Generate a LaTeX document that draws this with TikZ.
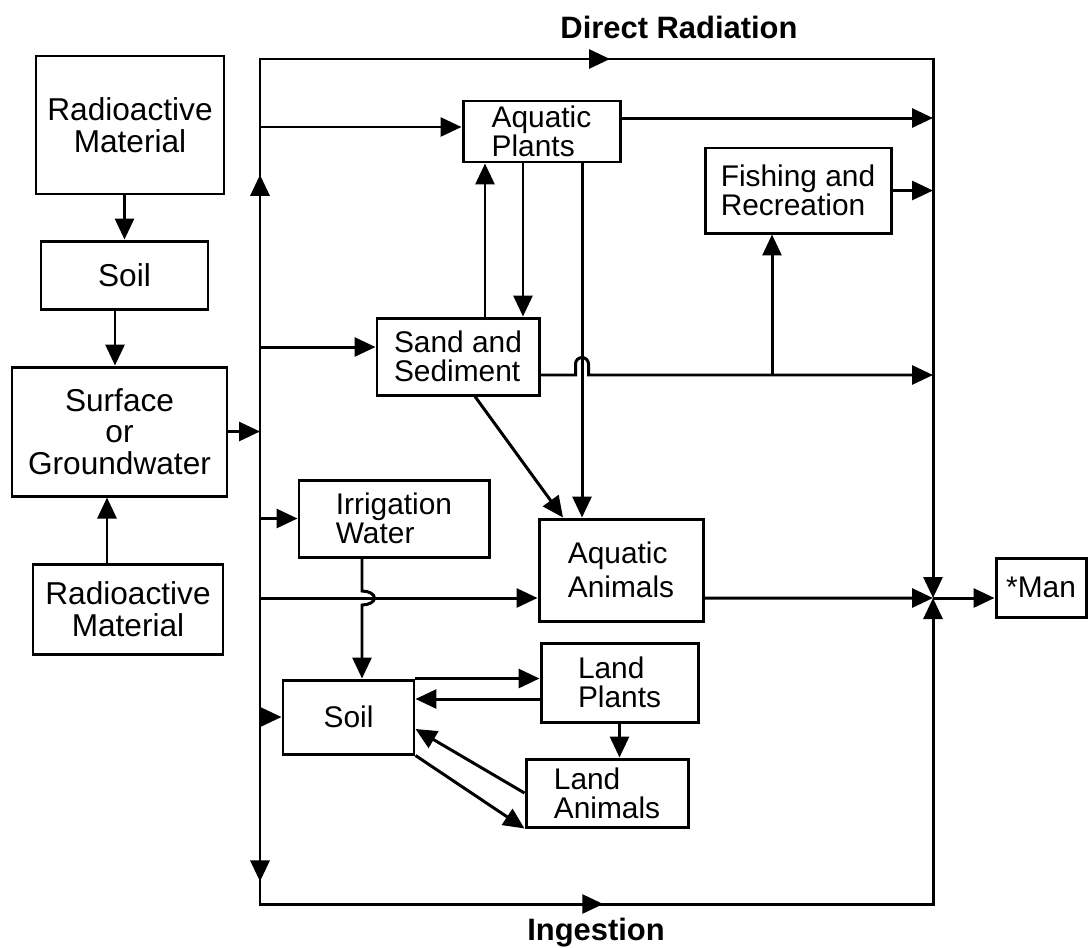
\documentclass[tikz,border=0pt]{standalone}
\usepackage{fontspec}
\setmainfont{Liberation Sans}
\usetikzlibrary{arrows.meta, decorations.markings}

\tikzset{
  wh/.style 2 args={minimum width=#1*0.02cm, minimum height=#2*0.02cm},
  box/.style={draw, line width=1.7pt, inner sep=0pt},
  lbox/.style={box, align=center, font=\fontsize{18}{18}\selectfont},
  rbox/.style={box, align=left, font=\fontsize{17}{16.5}\selectfont},
  flow/.style={line width=1.7pt, -{Triangle[length=0.42cm, width=0.38cm]}},
  midarrow/.style={postaction={decorate, decoration={markings,
      mark=at position #1 with {\arrow{Triangle[length=0.42cm, width=0.38cm]}}}}},
  head/.style={font=\bfseries\fontsize{17.6}{20}\selectfont}
}

\begin{document}
\begin{tikzpicture}[x=0.02cm, y=-0.02cm]
        \useasboundingbox (0,0) rectangle (1088,947);

        %% NODES
        % Source column
        \node[lbox, wh={188}{138}] (rmA) at (130,125) {Radioactive\\Material};
        \node[lbox, wh={167}{68}] (soilA) at (124.5,275) {Soil};
        \node[lbox, wh={215}{129}] (surf) at (119.5,431.5) {Surface\\or\\Groundwater};
        \node[lbox, wh={190}{90}] (rmB) at (128,609) {Radioactive\\Material};

        % Aquatic part
        \node[rbox, wh={157}{61}] (aqPl) at (541.5,131.5) {Aquatic\\Plants};
        \node[rbox, wh={186}{85}] (fish) at (798,190.5) {Fishing and\\Recreation};
        \node[rbox, wh={162}{77}] (sand) at (458,356.5) {Sand and\\Sediment};
        \node[rbox, wh={190}{77}] (irr) at (394,518.5) {Irrigation\\Water};
        \node[rbox, wh={164}{102}] (aqAn) at (621,570) {Aquatic\\[3pt]Animals};
        \node[rbox, wh={90}{59}] (man) at (1041,587.5) {*Man};

        % Land part
        \node[rbox, wh={157}{79}] (landPl) at (619.5,682.5) {Land\\Plants};
        \node[rbox, wh={131}{74}] (soilB) at (348.5,717) {Soil};
        \node[rbox, wh={162}{68}] (landAn) at (607,793) {Land\\Animals};

        % Headings
        \node[head] (dirRad) at (679,27) {Direct Radiation};
        \node[head] (ingest) at (596,933) {Ingestion};

        %% BUS LINES
        \coordinate (tl) at (260,59);
        \coordinate (tr) at (933,59);
        \coordinate (bl) at (260,904);
        \coordinate (br) at (933,904);
        \coordinate (jn) at (933,598);
        \coordinate (sj) at (surf.east -| tl);

        \draw[flow, midarrow=0.162, midarrow=0.456] (sj) -- (tl) -- (tr) -- (jn);
        \draw[flow, midarrow=0.31, midarrow=0.562] (sj) -- (bl) -- (br) -- (jn);

        %% CONNECTIONS - source column
        \draw[flow] (soilA.north |- rmA.south) -- (soilA.north);
        \draw[flow] ([xshift=-0.19cm]soilA.south) -- ([xshift=-0.19cm]soilA.south |- surf.north);
        \draw[flow] ([xshift=-0.42cm]rmB.north) -- ([xshift=-0.42cm]rmB.north |- surf.south);
        \draw[flow] (surf.east) -- (sj);

        %% CONNECTIONS - aquatic part
        \coordinate (sIn) at ([yshift=0.19cm]sand.west);
        \coordinate (sOut) at ([yshift=-0.37cm]sand.east);
        \coordinate (sUp) at ([xshift=0.54cm]sand.north);
        \coordinate (sDn) at ([xshift=1.3cm]sand.north);
        \coordinate (aqDrop) at ([xshift=-0.78cm]aqAn.north);
        \coordinate (fFoot) at ([xshift=-0.52cm]fish.south);
        \coordinate (hopA) at (aqDrop |- sOut);

        \draw[flow] ([yshift=0.09cm]aqPl.west -| tl) -- ([yshift=0.09cm]aqPl.west);
        \draw[flow] ([yshift=0.27cm]aqPl.east) -- ([yshift=0.27cm]aqPl.east -| tr);
        \draw[flow] (fish.east) -- (fish.east -| tr);
        \draw[flow] (sIn -| tl) -- (sIn);
        \draw[flow] (sOut) -- ([xshift=-0.13cm]hopA) -- ++(0,-11)
            arc[start angle=180, end angle=0, radius=0.13cm] -- ([xshift=0.13cm]hopA) -- (sOut -| tr);
        \draw[flow] (fFoot |- sOut) -- (fFoot);
        \draw[flow] (sUp) -- (sUp |- aqPl.south);
        \draw[flow] (sDn |- aqPl.south) -- (sDn);
        \draw[flow] (aqDrop |- aqPl.south) -- (aqDrop);
        \draw[flow] ([xshift=0.34cm]sand.south) -- ([xshift=-1.16cm]aqAn.north);

        % Irrigation and animals
        \coordinate (aIn) at ([yshift=-0.56cm]aqAn.west);
        \coordinate (iDrop) at ([xshift=0.27cm]soilB.north);
        \coordinate (hopB) at (iDrop |- aIn);

        \draw[flow] (irr.west -| tl) -- (irr.west);
        \draw[flow] (aIn -| tl) -- (aIn);
        \draw[flow] (iDrop |- irr.south) -- ([yshift=0.14cm]hopB)
            arc[start angle=90, end angle=-90, x radius=0.25cm, y radius=0.14cm] -- (iDrop);
        \draw[flow] (aIn -| aqAn.east) -- (jn);
        \draw[flow] (jn) -- (jn -| man.west);

        %% CONNECTIONS - land part
        \coordinate (lpOut) at ([yshift=-0.33cm]landPl.west);
        \draw[flow] (soilB.west -| tl) -- (soilB.west);
        \draw[flow] (soilB.north east) -- (soilB.north east -| landPl.west);
        \draw[flow] (lpOut) -- (lpOut -| soilB.east);
        \draw[flow] (landPl.south) -- (landPl.south |- landAn.north);
        \draw[flow] (landAn.west) -- ([yshift=-0.24cm]soilB.east);
        \draw[flow] (soilB.south east) -- (landAn.south west);

\end{tikzpicture}
\end{document}
